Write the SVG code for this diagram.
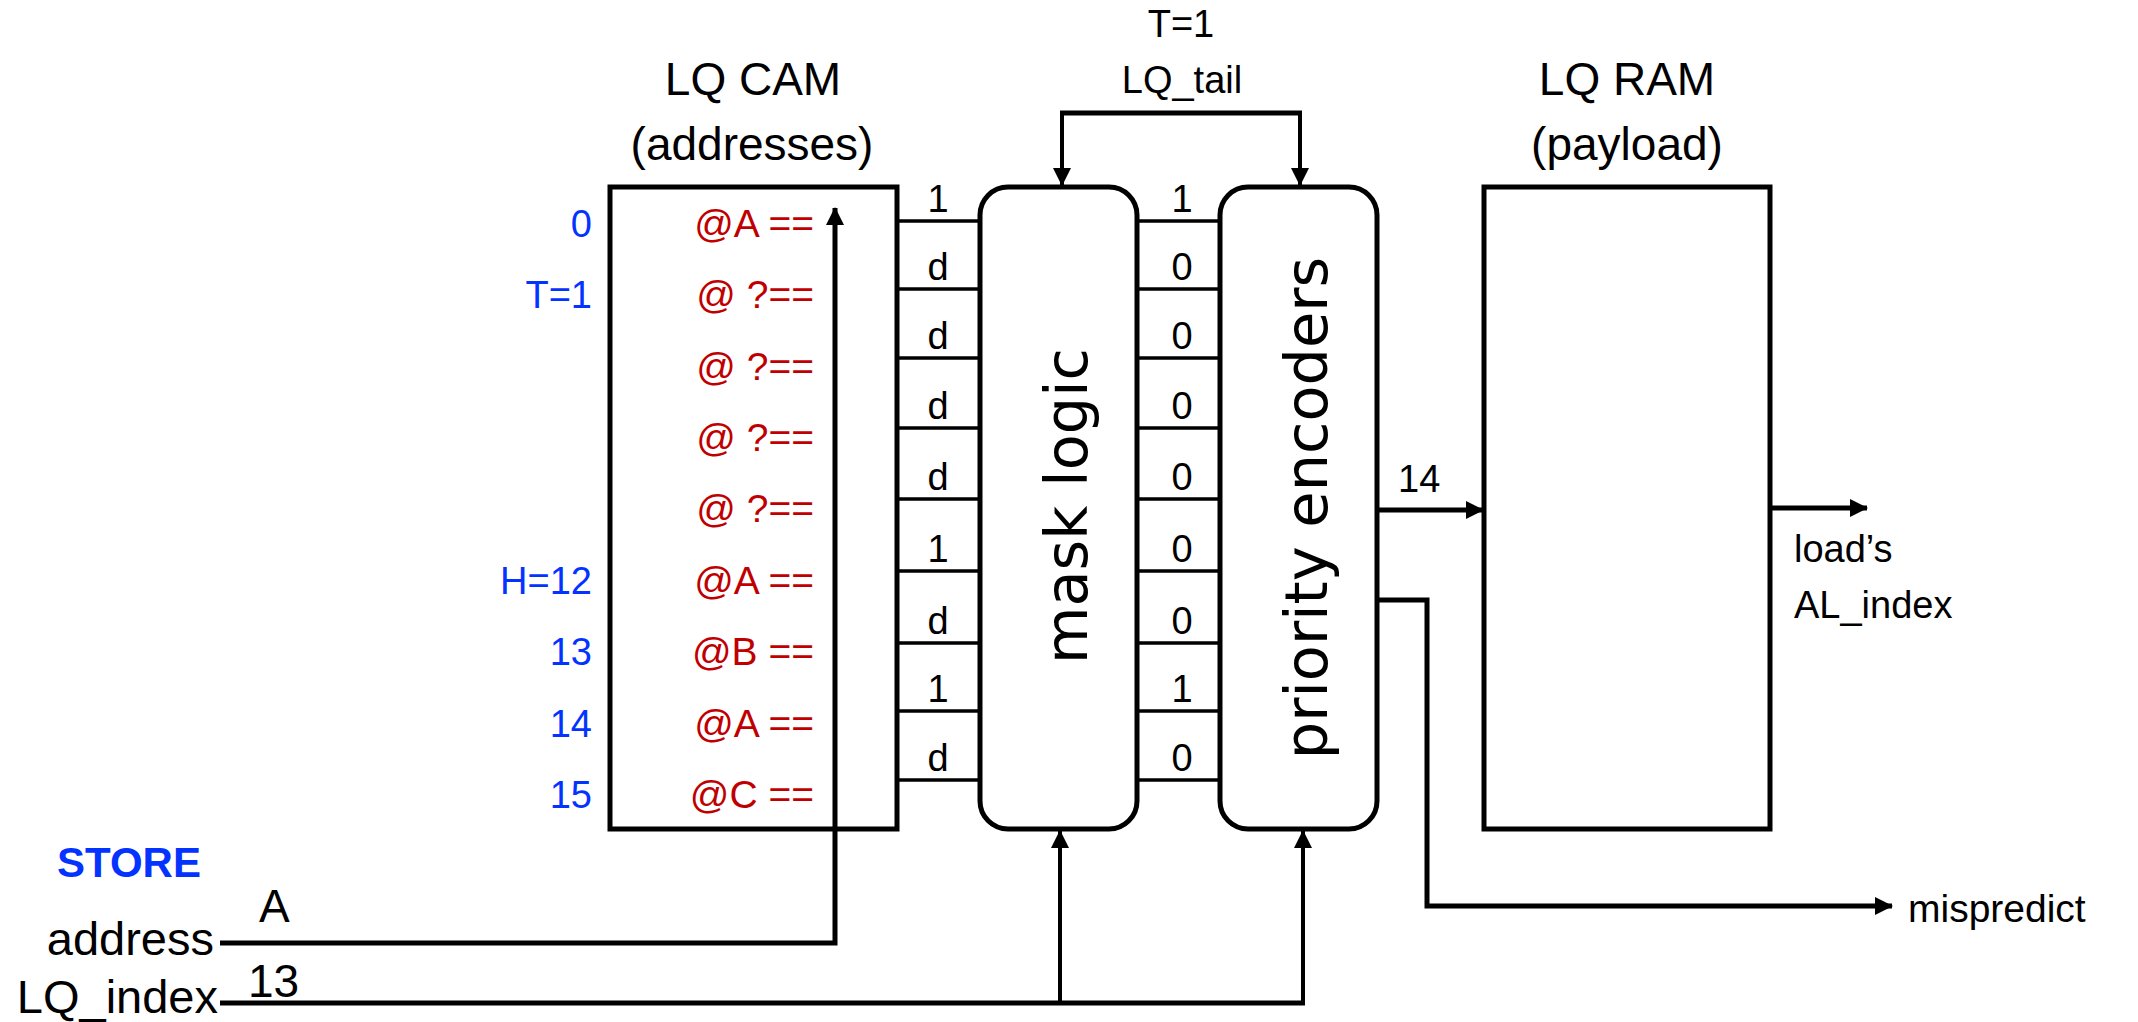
<svg xmlns="http://www.w3.org/2000/svg" width="2138" height="1022" viewBox="0 0 2138 1022">
<defs>
<marker id="ah" markerUnits="userSpaceOnUse" markerWidth="18" markerHeight="18" refX="17" refY="9" orient="auto">
<path d="M0,0 L18,9 L0,18 z" fill="#000"/>
</marker>
<style>
text{font-family:"Liberation Sans",Arial,sans-serif;fill:#000}
.t38{font-size:38px}
.t46{font-size:46px}
.t47{font-size:47px}
.lbl{font-size:38px;text-anchor:middle}
.blue{fill:#0433FF;font-size:38px;text-anchor:end}
.red{fill:#C00000;font-size:39px;text-anchor:end}
.mid{text-anchor:middle}
.end{text-anchor:end}
.box{fill:#fff;stroke:#000;stroke-width:5}
.row{stroke:#000;stroke-width:3.5;fill:none}
.w{stroke:#000;fill:none;stroke-width:5}
.w4{stroke:#000;fill:none;stroke-width:4}
.rot{font-family:"DejaVu Sans",Verdana,sans-serif;font-size:59px;text-anchor:middle}
</style>
</defs>
<rect width="2138" height="1022" fill="#fff"/>

<g id="lq-cam">
<text class="t46 mid" x="753" y="95">LQ CAM</text>
<text class="t46 mid" x="752" y="160">(addresses)</text>
<rect class="box" x="610" y="187" width="287" height="642"/>
<text class="blue" x="592" y="237">0</text>
<text class="blue" x="592" y="308">T=1</text>
<text class="blue" x="592" y="594">H=12</text>
<text class="blue" x="592" y="665">13</text>
<text class="blue" x="592" y="737">14</text>
<text class="blue" x="592" y="808">15</text>
<text class="red" x="814" y="237">@A ==</text>
<text class="red" x="814" y="308">@ ?==</text>
<text class="red" x="814" y="380">@ ?==</text>
<text class="red" x="814" y="451">@ ?==</text>
<text class="red" x="814" y="522">@ ?==</text>
<text class="red" x="814" y="594">@A ==</text>
<text class="red" x="814" y="665">@B ==</text>
<text class="red" x="814" y="737">@A ==</text>
<text class="red" x="814" y="808">@C ==</text>
</g>

<g id="mask-logic">
<rect class="box" x="980" y="187" width="157" height="642" rx="28" ry="28"/>
<text class="rot" transform="translate(1087,506) rotate(-90)">mask logic</text>
</g>

<g id="priority-encoders">
<rect class="box" x="1220" y="187" width="157" height="642" rx="28" ry="28"/>
<text class="rot" transform="translate(1327,508) rotate(-90)">priority encoders</text>
</g>

<g id="lq-ram">
<text class="t46 mid" x="1627" y="95">LQ RAM</text>
<text class="t46 mid" x="1627" y="160">(payload)</text>
<rect class="box" x="1484" y="187" width="286" height="642"/>
</g>

<g id="tail-label">
<text class="t38 mid" x="1181" y="37">T=1</text>
<text class="t38 mid" x="1182" y="93">LQ_tail</text>
</g>

<g id="store">
<text x="57" y="877" style="font-size:42px;font-weight:bold;fill:#0433FF">STORE</text>
<text class="t47 end" x="214" y="955">address</text>
<text class="t47 end" x="218" y="1013">LQ_index</text>
<text class="t46" x="259" y="922">A</text>
<text class="t46" x="248" y="997">13</text>
</g>

<g id="outputs">
<text class="t38" x="1398" y="492">14</text>
<text class="t38" x="1794" y="562">load’s</text>
<text class="t38" x="1794" y="618">AL_index</text>
<text x="1908" y="922" style="font-size:39px">mispredict</text>
</g>

<g id="connectors">
<g class="row">
<line x1="897" y1="221" x2="980" y2="221"/>
<line x1="897" y1="289" x2="980" y2="289"/>
<line x1="897" y1="358" x2="980" y2="358"/>
<line x1="897" y1="428" x2="980" y2="428"/>
<line x1="897" y1="499" x2="980" y2="499"/>
<line x1="897" y1="571" x2="980" y2="571"/>
<line x1="897" y1="643" x2="980" y2="643"/>
<line x1="897" y1="711" x2="980" y2="711"/>
<line x1="897" y1="780" x2="980" y2="780"/>
<line x1="1137" y1="221" x2="1220" y2="221"/>
<line x1="1137" y1="289" x2="1220" y2="289"/>
<line x1="1137" y1="358" x2="1220" y2="358"/>
<line x1="1137" y1="428" x2="1220" y2="428"/>
<line x1="1137" y1="499" x2="1220" y2="499"/>
<line x1="1137" y1="571" x2="1220" y2="571"/>
<line x1="1137" y1="643" x2="1220" y2="643"/>
<line x1="1137" y1="711" x2="1220" y2="711"/>
<line x1="1137" y1="780" x2="1220" y2="780"/>
</g>
<text class="lbl" x="938" y="212">1</text>
<text class="lbl" x="938" y="280">d</text>
<text class="lbl" x="938" y="349">d</text>
<text class="lbl" x="938" y="419">d</text>
<text class="lbl" x="938" y="490">d</text>
<text class="lbl" x="938" y="562">1</text>
<text class="lbl" x="938" y="634">d</text>
<text class="lbl" x="938" y="702">1</text>
<text class="lbl" x="938" y="771">d</text>
<text class="lbl" x="1182" y="212">1</text>
<text class="lbl" x="1182" y="280">0</text>
<text class="lbl" x="1182" y="349">0</text>
<text class="lbl" x="1182" y="419">0</text>
<text class="lbl" x="1182" y="490">0</text>
<text class="lbl" x="1182" y="562">0</text>
<text class="lbl" x="1182" y="634">0</text>
<text class="lbl" x="1182" y="702">1</text>
<text class="lbl" x="1182" y="771">0</text>

<path class="w" d="M1060,113 L1302,113"/>
<path class="w4" d="M1062,113 L1062,185" marker-end="url(#ah)"/>
<path class="w4" d="M1300,113 L1300,185" marker-end="url(#ah)"/>

<path class="w" d="M220,943 L835,943 L835,208" marker-end="url(#ah)"/>

<path class="w" d="M220,1003 L1305,1003"/>
<path class="w4" d="M1060,1003 L1060,831" marker-end="url(#ah)"/>
<path class="w4" d="M1303,1003 L1303,831" marker-end="url(#ah)"/>

<path class="w" d="M1377,510 L1483,510" marker-end="url(#ah)"/>
<path class="w" d="M1770,508 L1867,508" marker-end="url(#ah)"/>
<path class="w" d="M1377,600 L1427,600 L1427,906 L1892,906" marker-end="url(#ah)"/>
</g>
</svg>
